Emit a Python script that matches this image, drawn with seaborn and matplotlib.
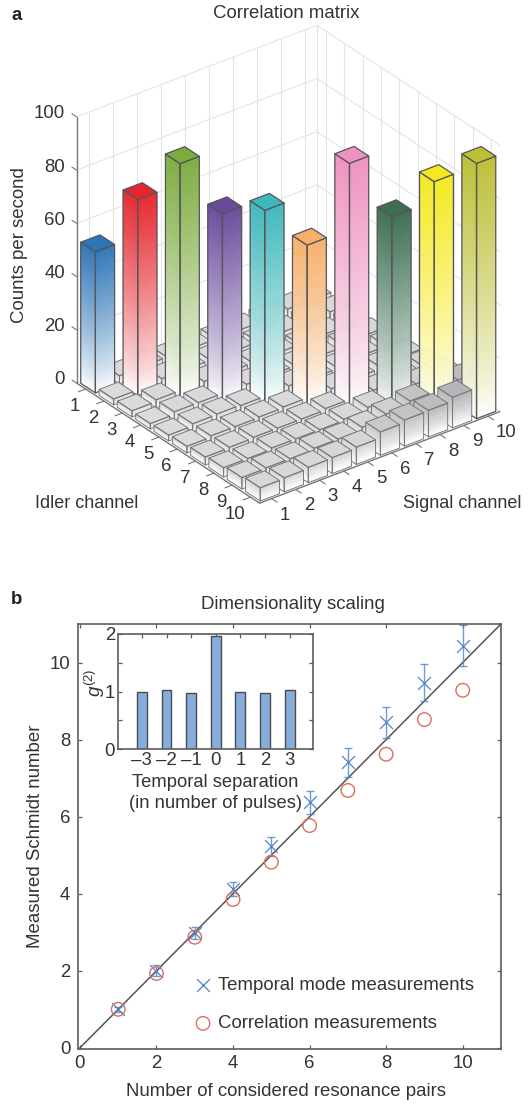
import numpy as np
import pandas as pd
import matplotlib
matplotlib.use("Agg")
import matplotlib.pyplot as plt
import seaborn as sns
from mpl_toolkits.mplot3d import proj3d
from mpl_toolkits.mplot3d.art3d import Poly3DCollection

# Panel a: counts per second, rows = idler channel 1-10, columns = signal channel 1-10
counts_row1 = [53.0, 3.0, 3.2, 3.0, 3.0, 3.2, 3.0, 3.5, 4.0, 4.0]
counts_row2 = [2.2, 73.7, 3.0, 3.0, 3.2, 3.0, 3.0, 3.2, 3.8, 4.0]
counts_row3 = [2.3, 3.0, 88.3, 3.0, 3.0, 3.2, 3.2, 3.0, 3.5, 4.2]
counts_row4 = [2.0, 3.0, 3.0, 70.5, 3.0, 3.0, 3.2, 3.2, 4.0, 4.5]
counts_row5 = [2.2, 3.0, 3.2, 3.0, 72.9, 3.5, 3.0, 3.5, 4.5, 5.0]
counts_row6 = [2.5, 3.0, 3.0, 3.2, 3.5, 60.9, 3.5, 4.0, 5.0, 5.5]
counts_row7 = [3.0, 3.2, 3.5, 3.5, 3.5, 4.0, 92.7, 4.0, 6.0, 6.5]
counts_row8 = [3.5, 3.5, 4.0, 4.0, 4.0, 4.5, 5.5, 73.7, 7.5, 8.0]
counts_row9 = [4.3, 4.5, 4.5, 5.0, 5.0, 6.0, 7.5, 9.0, 88.0, 10.0]
counts_row10 = [5.0, 5.3, 5.8, 6.0, 6.5, 8.8, 9.8, 10.0, 11.5, 95.9]
diag_colors = ["#2e75b8", "#e6262e", "#7cac3f", "#6a4a9c", "#3fb8bb",
               "#f6b06a", "#ee92bf", "#3b6e52", "#f4e91f", "#bdbf35"]
channels = list(range(1, 11))
z_ticks = [0, 20, 40, 60, 80, 100]

# Panel b
pairs = [1, 2, 3, 4, 5, 6, 7, 8, 9, 10]
temporal = [1.0, 2.0, 2.98, 4.12, 5.23, 6.37, 7.41, 8.45, 9.48, 10.44]
temporal_err = [0.06, 0.14, 0.15, 0.18, 0.25, 0.3, 0.38, 0.4, 0.47, 0.53]
correlation = [1.0, 1.93, 2.87, 3.85, 4.82, 5.77, 6.68, 7.62, 8.52, 9.28]
diagonal = [0, 11]

# Inset
separation = ["\u20133", "\u20132", "\u20131", "0", "1", "2", "3"]
g2 = [1.0, 1.02, 0.98, 1.965, 1.0, 0.98, 1.02]

sns.set_theme(style="ticks")
plt.rcParams["font.family"] = ["Liberation Sans", "DejaVu Sans"]
plt.rcParams["mathtext.fontset"] = "custom"
plt.rcParams["mathtext.rm"] = "Liberation Sans"
plt.rcParams["mathtext.it"] = "Liberation Sans:italic"

W, H = 528, 1104
ink = "#333333"
fs = 13.4
fs_small = 13
fig = plt.figure(figsize=(W / 100, H / 100), dpi=100)
fig.patch.set_facecolor("white")

# ---- a: 3D bars ----
ax3 = fig.add_axes([0, 1 - W / H, 1, W / H], projection="3d", computed_zorder=False)
ax3.set_proj_type("ortho")
ax3.view_init(elev=30, azim=-37.3)
ax3.set_xlim(0.5, 10.5, view_margin=0)
ax3.set_ylim(0.5, 10.5, view_margin=0)
ax3.set_zlim(0, 100, view_margin=0)
aspect = (1, 1, 1.017)
ax3.set_box_aspect(aspect)
ax3.set_axis_off()
ax3.patch.set_alpha(0)


def to_pixels(x, y, z):
    px, py, _ = proj3d.proj_transform(x, y, z, ax3.get_proj())
    return ax3.transData.transform((px, py))


def label3d(x, y, z, dx, dy, txt, ha):
    # text next to a 3D point, offset in pixels (dy downwards)
    p = to_pixels(x, y, z)
    fig.text((p[0] + dx) / W, (p[1] - dy) / H, txt, ha=ha, va="center", fontsize=fs, color=ink)


# scale and shift the axes so the floor lands where it is in the picture
fig.canvas.draw()
span = to_pixels(10.5, 10.5, 0)[0] - to_pixels(0.5, 0.5, 0)[0]
ax3.set_box_aspect(aspect, zoom=423.5 / span)
fig.canvas.draw()
corner = to_pixels(0.5, 0.5, 0)
pos = ax3.get_position()
ax3.set_position([pos.x0 + (76.5 - corner[0]) / W, pos.y0 + (H - 383 - corner[1]) / H,
                  pos.width, pos.height])
fig.canvas.draw()

wall = "#e4e4e4"
axis_col = "#777777"
for z in z_ticks:
    ax3.plot([0.5, 0.5], [0.5, 10.5], [z, z], color=wall, lw=0.8, zorder=1, clip_on=False)
    ax3.plot([0.5, 10.5], [10.5, 10.5], [z, z], color=wall, lw=0.8, zorder=1, clip_on=False)
ax3.plot([0.5, 0.5], [10.5, 10.5], [0, 100], color=wall, lw=0.8, zorder=1, clip_on=False)
for c in channels:
    ax3.plot([0.5, 0.5], [c, c], [0, 100], color=wall, lw=0.8, zorder=1, clip_on=False)
    ax3.plot([c, c], [10.5, 10.5], [0, 100], color=wall, lw=0.8, zorder=1, clip_on=False)

# axis lines and ticks
ax3.plot([0.5, 0.5], [0.5, 0.5], [0, 100], color=axis_col, lw=1, zorder=2, clip_on=False)
ax3.plot([0.5, 10.5], [0.5, 0.5], [0, 0], color=axis_col, lw=1, zorder=2, clip_on=False)
ax3.plot([10.5, 10.5], [0.5, 10.5], [0, 0], color=axis_col, lw=1, zorder=2, clip_on=False)
for z in z_ticks:
    ax3.plot([0.5, 0.25], [0.5, 0.5], [z, z], color=axis_col, lw=0.8, zorder=2, clip_on=False)
    label3d(0.5, 0.5, z, -11.5, -3, str(z), "right")
for c in channels:
    ax3.plot([c, c], [0.5, 0.2], [0, 0], color=axis_col, lw=0.8, zorder=2, clip_on=False)
    ax3.plot([10.5, 10.8], [c, c], [0, 0], color=axis_col, lw=0.8, zorder=2, clip_on=False)
    label3d(c, 0.5, 0, -5.5, 17.5, str(c), "right")
    label3d(10.5, c, 0, 8, 16.5, str(c), "left")

counts = np.array([counts_row1, counts_row2, counts_row3, counts_row4, counts_row5,
                   counts_row6, counts_row7, counts_row8, counts_row9, counts_row10])
greys = sns.blend_palette(["#dddddd", "#d6d6d6", "#b0b0b4"], 13)
half = 0.4
for i in channels:
    for j in channels:
        h = counts[i - 1, j - 1]
        top = diag_colors[i - 1] if i == j else greys[min(int(h), 12)]
        n = max(8, int(h * 1.5))
        shades = sns.blend_palette(["white", top], n)
        x0, x1, y0, y1 = i - half, i + half, j - half, j + half
        depth = 10 + i - j
        faces, colors = [], []
        for k in range(n):
            z0, z1 = h * k / n, h * (k + 1) / n
            col = shades[int(n * (k / n) ** 0.8)]
            faces.append([(x1, y0, z0), (x1, y1, z0), (x1, y1, z1), (x1, y0, z1)])
            faces.append([(x0, y0, z0), (x1, y0, z0), (x1, y0, z1), (x0, y0, z1)])
            colors += [col, col]
        poly = Poly3DCollection(faces, facecolors=colors, edgecolors=colors, linewidths=0.3,
                                zorder=depth + 20, clip_on=False)
        ax3.add_collection3d(poly, autolim=False)
        outline = [[(x1, y0, 0), (x1, y1, 0), (x1, y1, h), (x1, y0, h)],
                   [(x0, y0, 0), (x1, y0, 0), (x1, y0, h), (x0, y0, h)],
                   [(x0, y0, h), (x1, y0, h), (x1, y1, h), (x0, y1, h)]]
        edge = Poly3DCollection(outline, facecolors=["none", "none", top],
                                edgecolors="#55555a" if i == j else "#77777c",
                                linewidths=0.9 if i == j else 0.7,
                                zorder=depth + 20.5, clip_on=False)
        ax3.add_collection3d(edge, autolim=False)

fig.text(17 / W, 1 - 15 / H, "a", fontsize=fs, fontweight="bold", color="#222222", ha="center", va="center")
fig.text(286 / W, 1 - 13 / H, "Correlation matrix", fontsize=fs, color=ink, ha="center", va="center")
fig.text(20 / W, 1 - 245 / H, "Counts per second", fontsize=fs, color=ink, rotation=90, ha="center", va="center")
fig.text(87 / W, 1 - 503 / H, "Idler channel", fontsize=fs_small, color=ink, ha="center", va="center")
fig.text(462 / W, 1 - 503 / H, "Signal channel", fontsize=fs_small, color=ink, ha="center", va="center")

# ---- b: Schmidt number ----
spine = "#5c5c5c"
ax = fig.add_axes([78 / W, 1 - 1049 / H, 423 / W, 425 / H])
sns.lineplot(x=diagonal, y=diagonal, color="#555555", lw=1.1, ax=ax, zorder=1)
blue = "#4f82c6"
red = "#d9705a"
ax.errorbar(pairs, temporal, yerr=temporal_err, fmt="none", ecolor=blue, elinewidth=1,
            capsize=3, capthick=1, alpha=0.8, zorder=2)
sns.scatterplot(x=pairs, y=temporal, marker="x", s=85, color=blue, linewidth=0.9, ax=ax,
                zorder=3, label="Temporal mode measurements")
sns.scatterplot(x=pairs, y=correlation, marker="o", s=95, fc="none", ec=red, linewidth=1, ax=ax,
                zorder=3, label="Correlation measurements")
ax.set_xlim(-0.05, 11)
ax.set_ylim(-0.03, 11)
ax.set_xticks([0, 2, 4, 6, 8, 10])
ax.set_yticks([0, 2, 4, 6, 8, 10])
ax.tick_params(axis="both", direction="in", top=True, right=True, length=3, width=0.9, color=spine,
               labelsize=fs, labelcolor=ink)
ax.tick_params(axis="x", pad=4)
ax.tick_params(axis="y", pad=5.5)
for s in ax.spines.values():
    s.set_color(spine)
    s.set_linewidth(1.2)
    s.set_visible(True)
ax.set_xlabel("Number of considered resonance pairs", fontsize=fs, color=ink, labelpad=0)
ax.xaxis.set_label_coords((286.5 - 78) / 423, (1049 - 1092) / 425, transform=ax.transAxes)
ax.xaxis.label.set_va("center")
ax.set_ylabel("Measured Schmidt number", fontsize=fs, color=ink)
ax.yaxis.set_label_coords((36 - 78) / 423, (1049 - 836) / 425, transform=ax.transAxes)
ax.yaxis.label.set_va("center")
ax.set_title("Dimensionality scaling", fontsize=fs, color=ink, pad=11, x=(292.5 - 78) / 423)
ax.legend(loc="lower left", bbox_to_anchor=(0.234, 0.0), frameon=False, fontsize=fs,
          handlelength=1, labelspacing=1.15, handletextpad=0.3, labelcolor=ink)
fig.text(17 / W, 1 - 600 / H, "b", fontsize=fs, fontweight="bold", color="#222222", ha="center", va="center")

# ---- inset ----
ins = fig.add_axes([118 / W, 1 - 749 / H, 195 / W, 115 / H])
frame = pd.DataFrame({"separation": separation, "g2": g2})
sns.barplot(data=frame, x="separation", y="g2", color="#85aedd", saturation=1, width=0.4,
            edgecolor="#4a4a4f", linewidth=1, ax=ins)
ins.set_xlim(-0.97, 6.95)
ins.set_ylim(0, 2)
ins.set_yticks([0, 1, 2])
ins.set_yticks([0.5, 1.5], minor=True)
ins.tick_params(which="both", direction="in", top=True, right=True, length=3, width=0.9, color=spine,
                labelsize=fs, labelcolor=ink, pad=2)
for s in ins.spines.values():
    s.set_color(spine)
    s.set_linewidth(1.2)
    s.set_visible(True)
ins.set_xlabel("Temporal separation\n(in number of pulses)", fontsize=13.2, color=ink, labelpad=4, linespacing=1.3)
ins.set_ylabel(r"$g^{(2)}$", fontsize=13.5, color=ink)
ins.yaxis.set_label_coords((95 - 118) / 195, (749 - 683) / 115, transform=ins.transAxes)
ins.yaxis.label.set_va("center")

fig.savefig("out.png", dpi=100, facecolor="white")
